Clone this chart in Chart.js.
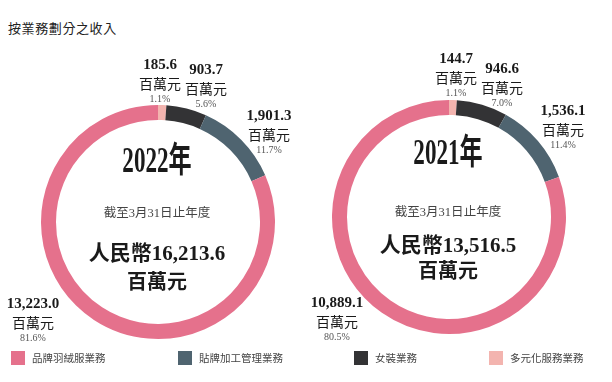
<!DOCTYPE html>
<html>
<head>
<meta charset="utf-8">
<script src="https://cdn.jsdelivr.net/npm/chart.js@4"></script>
<style>
  body { margin: 0; width: 612px; height: 382px; background: #fff; position: relative; overflow: hidden; }
  .box { position: absolute; top: 0; width: 306px; height: 382px; }
  #title { position: absolute; left: 8px; top: 18px; font: 13px 'Noto Sans CJK TC', sans-serif; color: #222; letter-spacing: 0.6px; }
  .leg { position: absolute; top: 351px; height: 14px; font: 10.5px 'Noto Sans CJK TC', sans-serif; color: #444; line-height: 14px; white-space: nowrap; }
  .leg i { display: inline-block; width: 14px; height: 14px; vertical-align: top; margin-right: 7px; }
</style>
</head>
<body>
<div id="title">按業務劃分之收入</div>
<div class="box" style="left:0"><canvas id="chart2022" width="306" height="382"></canvas></div>
<div class="box" style="left:306px"><canvas id="chart2021" width="306" height="382"></canvas></div>
<div id="legend"></div>
<script>
// categories in legend order
const categories = ['品牌羽絨服業務', '貼牌加工管理業務', '女裝業務', '多元化服務業務'];
const colors = ['#E5718C', '#4F6470', '#333335', '#F3B4AF'];

// revenue, RMB million
const values2022 = [13223.0, 1901.3, 903.7, 185.6];
const share2022 = [81.6, 11.7, 5.6, 1.1];
const total2022 = 16213.6;

const values2021 = [10889.1, 1536.1, 946.6, 144.7];
const share2021 = [80.5, 11.4, 7.0, 1.1];
const total2021 = 13516.5;

// where the value labels sit, relative to the ring centre
const labelOffsets2022 = [[-125, 101], [111, -87], [48, -133], [2, -138]];
const labelOffsets2021 = [[-112, 105], [114, -87], [53, -129], [7, -139]];

const legendX = [11, 178, 354, 489];

const SERIF = "'Liberation Serif', 'Noto Sans CJK TC', serif";
const CJK = "'Noto Sans CJK TC', sans-serif";

function fmt(v) {
  return v.toLocaleString('en-US', { minimumFractionDigits: 1, maximumFractionDigits: 1 });
}

const ringText = {
  id: 'ringText',
  afterDraw(chart, args, opts) {
    const arc = chart.getDatasetMeta(0).data[0];
    const cx = arc.x, cy = arc.y;
    const ctx = chart.ctx;
    ctx.save();
    ctx.textAlign = 'center';
    ctx.textBaseline = 'middle';

    // year, condensed like the original
    ctx.save();
    ctx.translate(cx + opts.dx, cy + opts.yearDy);
    ctx.scale(0.66, 1);
    ctx.fillStyle = '#1a1a1a';
    ctx.font = 'bold 35px ' + SERIF;
    ctx.fillText(opts.year + '年', 0, 0);
    ctx.restore();

    ctx.fillStyle = '#444';
    ctx.font = '12.5px ' + SERIF;
    ctx.fillText('截至3月31日止年度', cx + opts.dx, cy + opts.subDy);

    ctx.fillStyle = '#1a1a1a';
    ctx.font = 'bold 21px ' + SERIF;
    ctx.fillText('人民幣' + fmt(opts.total), cx + opts.dx, cy + opts.totalDy);
    ctx.font = 'bold 20px ' + CJK;
    ctx.fillText('百萬元', cx + opts.dx, cy + opts.unitDy);

    // value labels round the ring
    opts.values.forEach((v, i) => {
      const x = cx + opts.offsets[i][0];
      const y = cy + opts.offsets[i][1];
      ctx.fillStyle = '#1a1a1a';
      ctx.font = 'bold 15px ' + SERIF;
      ctx.fillText(fmt(v), x, y - 19);
      ctx.font = '14px ' + CJK;
      ctx.fillText('百萬元', x, y);
      ctx.fillStyle = '#555';
      ctx.font = '10px ' + SERIF;
      ctx.fillText(opts.shares[i].toFixed(1) + '%', x, y + 15);
    });
    ctx.restore();
  }
};

function makeRing(id, values, shares, total, year, offsets, pad, textPos) {
  // ring runs clockwise from the top in reverse legend order
  const rev = a => a.slice().reverse();
  new Chart(document.getElementById(id), {
    type: 'doughnut',
    data: {
      labels: rev(categories),
      datasets: [{
        data: rev(values),
        backgroundColor: rev(colors),
        borderWidth: 0,
        hoverOffset: 0
      }]
    },
    options: {
      responsive: false,
      animation: false,
      radius: 117,
      cutout: 102,
      layout: { padding: pad },
      plugins: {
        legend: { display: false },
        tooltip: { enabled: false },
        ringText: Object.assign({ values, shares, total, year, offsets }, textPos)
      }
    },
    plugins: [ringText]
  });
}

makeRing('chart2022', values2022, share2022, total2022, 2022, labelOffsets2022,
  { left: 41, right: 31, top: 105, bottom: 43 },
  { dx: -1, yearDy: -59, subDy: -8, totalDy: 33, unitDy: 59 });

makeRing('chart2021', values2021, share2021, total2021, 2021, labelOffsets2021,
  { left: 26, right: 46, top: 100, bottom: 48 },
  { dx: -1, yearDy: -62, subDy: -4, totalDy: 30, unitDy: 53 });

// shared legend
const legend = document.getElementById('legend');
categories.forEach((c, i) => {
  const d = document.createElement('div');
  d.className = 'leg';
  d.style.left = legendX[i] + 'px';
  d.innerHTML = '<i style="background:' + colors[i] + '"></i>' + c;
  legend.appendChild(d);
});
</script>
</body>
</html>
